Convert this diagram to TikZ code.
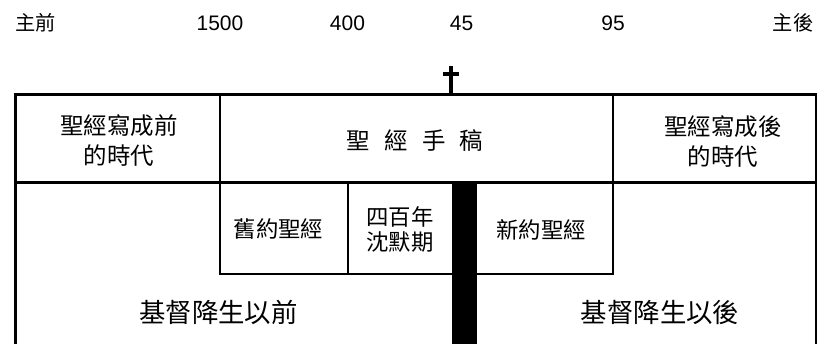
\documentclass[tikz,border=0pt]{standalone}
\usepackage{fontspec}
\setmainfont{Noto Sans CJK TC}
\newfontfamily\numfont{Liberation Sans}
\begin{document}
\begin{tikzpicture}[x=0.75pt,y=-0.75pt,
  outerline/.style={line width=2.25pt},
  innerline/.style={line width=1.5pt},
  lbl/.style={inner sep=0pt, align=center, font=\fontsize{17.6}{22.5}\selectfont},
  small/.style={inner sep=0pt, align=center, font=\fontsize{16.8}{19}\selectfont},
  big/.style={inner sep=0pt, font=\fontsize{19.8}{24}\selectfont},
  yr/.style={inner sep=0pt, font=\numfont\fontsize{15.75}{18}\selectfont},
  hd/.style={inner sep=0pt, font=\fontsize{15.2}{18}\selectfont}]
\useasboundingbox (0,0) rectangle (818,344);
% corner coordinates
\coordinate (TL) at (15,94);
\coordinate (TR) at (816,94);
\coordinate (BL) at (15,344);
\coordinate (BR) at (816,344);
\coordinate (ML) at (15,182);
\coordinate (MR) at (816,182);
% inner dividers
\draw[innerline] (220,94) -- (220,274) -- (613,274) -- (613,94);
\draw[innerline] (348,182) -- (348,274);
% outer frame
\draw[outerline] (13.9,94) -- (817,94);
\draw[outerline] (15,92.9) -- (BL);
\draw[innerline] (TR) -- (BR);
\draw[outerline] (ML) -- (MR);
% black bar
\fill (452,182) rectangle (477,344);
% cross
\draw[line width=2.8pt] (451,66) -- (451,94);
\draw[line width=2.3pt] (443,74) -- (459,74);
% timeline labels
\node[hd] (zq) at (35.5,23) {主前};
\node[yr] (y1500) at (220,23) {1500};
\node[yr] (y400) at (347.5,23) {400};
\node[yr] (y45) at (461.5,23) {45};
\node[yr] (y95) at (613,23) {95};
\node[hd] (zh) at (793,23) {主後};
% upper row
\node[lbl] (pre) at (119,141) {聖經寫成前\\的時代};
\node[lbl] (ms) at (415,141) {聖\hspace{0.6em}經\hspace{0.6em}手\hspace{0.6em}稿};
\node[lbl] (post) at (723,142) {聖經寫成後\\的時代};
% lower small boxes
\node[small] (ot) at (278.5,229) {舊約聖經};
\node[small] (silent) at (400,229.5) {四百年\\沈默期};
\node[small] (nt) at (541,230) {新約聖經};
% bottom
\node[big] (bc) at (218.5,312) {基督降生以前};
\node[big] (ad) at (660,312) {基督降生以後};
\end{tikzpicture}
\end{document}
